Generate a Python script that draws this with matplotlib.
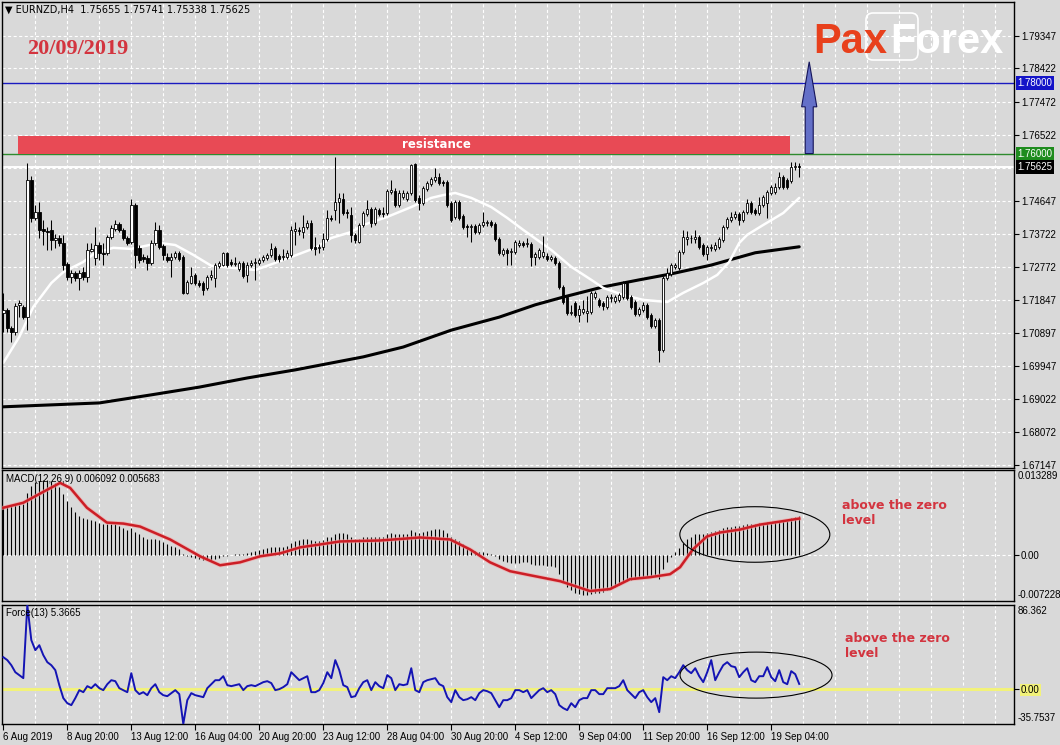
import numpy as np
import matplotlib
matplotlib.use("Agg")
import matplotlib.pyplot as plt
from matplotlib.patches import Rectangle, Ellipse, FancyBboxPatch, FancyArrow
import matplotlib.transforms as mtrans

plt.rcParams['font.family'] = ['Liberation Sans', 'DejaVu Sans']

# ---------------- data ----------------
symbol = "EURNZD,H4"
last_ohlc = ["1.75655", "1.75741", "1.75338", "1.75625"]
chart_date = "20/09/2019"

opens = [
 1.7147, 1.7155, 1.7104, 1.7093, 1.7170, 1.7164, 1.7135, 1.7525, 1.7417, 1.7434,
 1.7386, 1.7380, 1.7383, 1.7354, 1.7360, 1.7346, 1.7286, 1.7249, 1.7261, 1.7246,
 1.7263, 1.7249, 1.7323, 1.7303, 1.7340, 1.7318, 1.7318, 1.7363, 1.7386, 1.7400,
 1.7383, 1.7360, 1.7349, 1.7454, 1.7332, 1.7306, 1.7303, 1.7289, 1.7346, 1.7383,
 1.7337, 1.7306, 1.7298, 1.7306, 1.7318, 1.7306, 1.7204, 1.7232, 1.7255, 1.7232,
 1.7232, 1.7218, 1.7249, 1.7246, 1.7281, 1.7283, 1.7318, 1.7292, 1.7286, 1.7272,
 1.7289, 1.7255, 1.7283, 1.7289, 1.7289, 1.7298, 1.7303, 1.7312, 1.7332, 1.7309,
 1.7306, 1.7306, 1.7312, 1.7380, 1.7383, 1.7377, 1.7391, 1.7403, 1.7335, 1.7332,
 1.7335, 1.7357, 1.7417, 1.7440, 1.7463, 1.7471, 1.7434, 1.7426, 1.7369, 1.7349,
 1.7397, 1.7428, 1.7443, 1.7403, 1.7440, 1.7431, 1.7431, 1.7491, 1.7494, 1.7454,
 1.7477, 1.7471, 1.7488, 1.7571, 1.7474, 1.7460, 1.7499, 1.7514, 1.7525, 1.7534,
 1.7519, 1.7519, 1.7460, 1.7420, 1.7463, 1.7423, 1.7394, 1.7391, 1.7394, 1.7377,
 1.7397, 1.7403, 1.7406, 1.7400, 1.7357, 1.7315, 1.7326, 1.7320, 1.7320, 1.7340,
 1.7346, 1.7343, 1.7343, 1.7306, 1.7306, 1.7309, 1.7309, 1.7300, 1.7303, 1.7289,
 1.7221, 1.7192, 1.7147, 1.7175, 1.7141, 1.7150, 1.7147, 1.7150, 1.7192, 1.7184,
 1.7175, 1.7164, 1.7189, 1.7181, 1.7184, 1.7192, 1.7232, 1.7192, 1.7178, 1.7144,
 1.7155, 1.7170, 1.7141, 1.7110, 1.7127, 1.7042, 1.7246, 1.7258, 1.7278, 1.7275,
 1.7320, 1.7357, 1.7360, 1.7357, 1.7363, 1.7340, 1.7315, 1.7332, 1.7329, 1.7335,
 1.7354, 1.7391, 1.7411, 1.7420, 1.7428, 1.7411, 1.7434, 1.7460, 1.7440, 1.7431,
 1.7454, 1.7460, 1.7488, 1.7491, 1.7505, 1.7534, 1.7525, 1.7522, 1.7562, 1.75655]

highs = [
 1.7204, 1.7161, 1.7110, 1.7175, 1.7184, 1.7170, 1.7573, 1.7536, 1.7454, 1.7463,
 1.7411, 1.7391, 1.7411, 1.7372, 1.7369, 1.7369, 1.7292, 1.7269, 1.7266, 1.7269,
 1.7278, 1.7346, 1.7346, 1.7391, 1.7349, 1.7346, 1.7369, 1.7397, 1.7411, 1.7406,
 1.7389, 1.7366, 1.7471, 1.7460, 1.7340, 1.7315, 1.7312, 1.7354, 1.7406, 1.7397,
 1.7343, 1.7318, 1.7318, 1.7323, 1.7323, 1.7312, 1.7241, 1.7278, 1.7261, 1.7241,
 1.7238, 1.7255, 1.7269, 1.7289, 1.7295, 1.7320, 1.7320, 1.7300, 1.7306, 1.7295,
 1.7295, 1.7292, 1.7298, 1.7303, 1.7303, 1.7312, 1.7318, 1.7346, 1.7337, 1.7315,
 1.7329, 1.7326, 1.7394, 1.7406, 1.7391, 1.7426, 1.7411, 1.7411, 1.7363, 1.7343,
 1.7374, 1.7440, 1.7426, 1.7590, 1.7488, 1.7488, 1.7443, 1.7448, 1.7374, 1.7403,
 1.7437, 1.7468, 1.7448, 1.7448, 1.7445, 1.7448, 1.7499, 1.7525, 1.7502, 1.7497,
 1.7497, 1.7494, 1.7571, 1.7573, 1.7482, 1.7508, 1.7522, 1.7534, 1.7559, 1.7545,
 1.7525, 1.7525, 1.7465, 1.7468, 1.7468, 1.7428, 1.7400, 1.7400, 1.7400, 1.7403,
 1.7434, 1.7411, 1.7411, 1.7406, 1.7363, 1.7332, 1.7332, 1.7332, 1.7354, 1.7354,
 1.7352, 1.7360, 1.7349, 1.7320, 1.7332, 1.7366, 1.7318, 1.7312, 1.7309, 1.7295,
 1.7226, 1.7198, 1.7170, 1.7181, 1.7170, 1.7184, 1.7195, 1.7209, 1.7209, 1.7189,
 1.7181, 1.7198, 1.7201, 1.7198, 1.7204, 1.7238, 1.7238, 1.7198, 1.7184, 1.7164,
 1.7178, 1.7175, 1.7147, 1.7133, 1.7133, 1.7252, 1.7275, 1.7289, 1.7289, 1.7326,
 1.7383, 1.7380, 1.7369, 1.7383, 1.7369, 1.7346, 1.7340, 1.7343, 1.7349, 1.7363,
 1.7397, 1.7420, 1.7434, 1.7437, 1.7434, 1.7440, 1.7471, 1.7465, 1.7445, 1.7477,
 1.7482, 1.7497, 1.7511, 1.7517, 1.7548, 1.7539, 1.7531, 1.7576, 1.7576, 1.75741]

lows = [
 1.7093, 1.7093, 1.7064, 1.7084, 1.7135, 1.7130, 1.7098, 1.7406, 1.7411, 1.7360,
 1.7340, 1.7326, 1.7326, 1.7332, 1.7337, 1.7269, 1.7241, 1.7232, 1.7238, 1.7212,
 1.7241, 1.7235, 1.7320, 1.7283, 1.7298, 1.7283, 1.7312, 1.7357, 1.7380, 1.7377,
 1.7354, 1.7340, 1.7343, 1.7275, 1.7289, 1.7292, 1.7269, 1.7283, 1.7340, 1.7329,
 1.7298, 1.7292, 1.7249, 1.7300, 1.7295, 1.7201, 1.7201, 1.7229, 1.7226, 1.7221,
 1.7198, 1.7212, 1.7241, 1.7221, 1.7275, 1.7281, 1.7278, 1.7281, 1.7281, 1.7266,
 1.7246, 1.7235, 1.7278, 1.7241, 1.7283, 1.7292, 1.7298, 1.7306, 1.7295, 1.7292,
 1.7298, 1.7300, 1.7306, 1.7340, 1.7369, 1.7360, 1.7386, 1.7326, 1.7312, 1.7318,
 1.7326, 1.7352, 1.7409, 1.7411, 1.7403, 1.7426, 1.7417, 1.7349, 1.7346, 1.7346,
 1.7391, 1.7423, 1.7391, 1.7397, 1.7423, 1.7420, 1.7426, 1.7485, 1.7448, 1.7448,
 1.7471, 1.7465, 1.7482, 1.7463, 1.7440, 1.7454, 1.7494, 1.7508, 1.7519, 1.7511,
 1.7508, 1.7448, 1.7406, 1.7414, 1.7411, 1.7386, 1.7363, 1.7349, 1.7372, 1.7372,
 1.7391, 1.7394, 1.7391, 1.7352, 1.7312, 1.7309, 1.7283, 1.7283, 1.7315, 1.7335,
 1.7335, 1.7335, 1.7281, 1.7283, 1.7300, 1.7303, 1.7295, 1.7295, 1.7283, 1.7215,
 1.7172, 1.7141, 1.7141, 1.7135, 1.7121, 1.7144, 1.7121, 1.7144, 1.7187, 1.7164,
 1.7155, 1.7158, 1.7178, 1.7175, 1.7178, 1.7187, 1.7184, 1.7158, 1.7138, 1.7138,
 1.7150, 1.7130, 1.7104, 1.7104, 1.7007, 1.7036, 1.7241, 1.7252, 1.7272, 1.7269,
 1.7315, 1.7340, 1.7346, 1.7346, 1.7329, 1.7309, 1.7298, 1.7323, 1.7323, 1.7329,
 1.7349, 1.7386, 1.7406, 1.7414, 1.7397, 1.7406, 1.7428, 1.7428, 1.7426, 1.7426,
 1.7448, 1.7417, 1.7482, 1.7485, 1.7499, 1.7499, 1.7499, 1.7517, 1.7554, 1.75338]

closes = [
 1.7155, 1.7104, 1.7093, 1.7167, 1.7175, 1.7135, 1.7525, 1.7417, 1.7434, 1.7383,
 1.7380, 1.7377, 1.7354, 1.7360, 1.7346, 1.7283, 1.7249, 1.7261, 1.7246, 1.7261,
 1.7249, 1.7326, 1.7329, 1.7340, 1.7318, 1.7315, 1.7363, 1.7389, 1.7400, 1.7383,
 1.7360, 1.7346, 1.7454, 1.7312, 1.7298, 1.7300, 1.7289, 1.7346, 1.7383, 1.7335,
 1.7312, 1.7298, 1.7306, 1.7318, 1.7300, 1.7204, 1.7235, 1.7252, 1.7232, 1.7226,
 1.7212, 1.7249, 1.7255, 1.7283, 1.7289, 1.7318, 1.7283, 1.7286, 1.7289, 1.7289,
 1.7252, 1.7283, 1.7289, 1.7292, 1.7298, 1.7306, 1.7312, 1.7329, 1.7300, 1.7300,
 1.7309, 1.7318, 1.7383, 1.7386, 1.7380, 1.7391, 1.7403, 1.7332, 1.7329, 1.7335,
 1.7357, 1.7417, 1.7414, 1.7463, 1.7474, 1.7431, 1.7431, 1.7369, 1.7354, 1.7397,
 1.7431, 1.7443, 1.7403, 1.7443, 1.7428, 1.7428, 1.7494, 1.7497, 1.7454, 1.7488,
 1.7488, 1.7488, 1.7568, 1.7468, 1.7460, 1.7502, 1.7517, 1.7528, 1.7534, 1.7517,
 1.7517, 1.7454, 1.7411, 1.7463, 1.7417, 1.7391, 1.7391, 1.7394, 1.7377, 1.7397,
 1.7406, 1.7406, 1.7397, 1.7357, 1.7318, 1.7326, 1.7318, 1.7323, 1.7349, 1.7346,
 1.7340, 1.7346, 1.7306, 1.7315, 1.7326, 1.7320, 1.7300, 1.7306, 1.7289, 1.7221,
 1.7178, 1.7147, 1.7150, 1.7141, 1.7158, 1.7158, 1.7152, 1.7204, 1.7204, 1.7170,
 1.7167, 1.7192, 1.7192, 1.7192, 1.7198, 1.7232, 1.7189, 1.7164, 1.7144, 1.7158,
 1.7170, 1.7135, 1.7110, 1.7127, 1.7042, 1.7246, 1.7261, 1.7283, 1.7283, 1.7320,
 1.7363, 1.7363, 1.7360, 1.7363, 1.7335, 1.7315, 1.7335, 1.7335, 1.7340, 1.7357,
 1.7391, 1.7414, 1.7420, 1.7428, 1.7411, 1.7434, 1.7460, 1.7434, 1.7431, 1.7454,
 1.7477, 1.7491, 1.7505, 1.7505, 1.7534, 1.7505, 1.7505, 1.7562, 1.7565, 1.75625]

# moving averages (bar index, price)
ma_fast_bars = [0, 4, 7.5, 12, 15, 20, 23, 27.5, 32, 39, 43, 47.5, 52, 57.5, 63, 66, 72, 78, 82, 87,
                90, 96, 102, 107, 110, 113, 117, 122, 126, 130, 137, 142, 147, 150, 155, 160, 166, 170,
                175, 178.5, 181.5, 184, 186, 190, 195, 199]
ma_fast_vals = [1.7005, 1.7079, 1.7164, 1.7232, 1.7263, 1.7292, 1.7318, 1.7332, 1.7329, 1.7346,
                1.7340, 1.7312, 1.7281, 1.7275, 1.7269, 1.7281, 1.7306, 1.7332, 1.7360, 1.7377,
                1.7397, 1.7420, 1.7448, 1.7474, 1.7482, 1.7488, 1.7474, 1.7448, 1.7417, 1.7383,
                1.7326, 1.7278, 1.7241, 1.7218, 1.7198, 1.7184, 1.7178, 1.7204, 1.7232, 1.7255,
                1.7292, 1.7346, 1.7369, 1.7397, 1.7431, 1.7474]
ma_slow_bars = [0, 24, 37, 49, 61, 73, 90, 100, 112, 124, 133, 140, 150, 159, 167, 177, 188, 199]
ma_slow_vals = [1.6880, 1.6891, 1.6914, 1.6936, 1.6962, 1.6985, 1.7022, 1.7050, 1.7098, 1.7135,
                1.7170, 1.7192, 1.7221, 1.7241, 1.7258, 1.7283, 1.7318, 1.7335]

macd_main = [
 0.00754, 0.00769, 0.00769, 0.00785, 0.00785, 0.00800, 0.00971, 0.01080, 0.01142, 0.01158,
 0.01173, 0.01173, 0.01158, 0.01127, 0.01064, 0.00956, 0.00847, 0.00754, 0.00676, 0.00614,
 0.00583, 0.00567, 0.00552, 0.00536, 0.00505, 0.00490, 0.00490, 0.00490, 0.00490, 0.00458,
 0.00427, 0.00396, 0.00427, 0.00365, 0.00319, 0.00272, 0.00241, 0.00241, 0.00256, 0.00225,
 0.00194, 0.00163, 0.00132, 0.00117, 0.00085, 0.00008, -0.00023, -0.00039, -0.00054, -0.00070,
 -0.00085, -0.00085, -0.00085, -0.00070, -0.00054, -0.00023, -0.00023, -0.00008, 0.00008, 0.00008,
 0.00008, 0.00023, 0.00039, 0.00054, 0.00070, 0.00085, 0.00101, 0.00117, 0.00117, 0.00117,
 0.00117, 0.00132, 0.00179, 0.00210, 0.00225, 0.00241, 0.00256, 0.00225, 0.00210, 0.00210,
 0.00225, 0.00272, 0.00287, 0.00319, 0.00350, 0.00350, 0.00334, 0.00287, 0.00256, 0.00256,
 0.00272, 0.00287, 0.00272, 0.00287, 0.00287, 0.00287, 0.00319, 0.00350, 0.00334, 0.00334,
 0.00334, 0.00334, 0.00396, 0.00365, 0.00350, 0.00365, 0.00381, 0.00396, 0.00412, 0.00412,
 0.00396, 0.00350, 0.00287, 0.00256, 0.00210, 0.00163, 0.00117, 0.00085, 0.00054, 0.00039,
 0.00039, 0.00023, 0.00008, -0.00023, -0.00070, -0.00101, -0.00117, -0.00132, -0.00132, -0.00132,
 -0.00117, -0.00117, -0.00148, -0.00163, -0.00163, -0.00163, -0.00179, -0.00179, -0.00194, -0.00303,
 -0.00412, -0.00505, -0.00552, -0.00598, -0.00614, -0.00629, -0.00629, -0.00614, -0.00598, -0.00598,
 -0.00583, -0.00552, -0.00536, -0.00505, -0.00474, -0.00427, -0.00412, -0.00396, -0.00381, -0.00365,
 -0.00350, -0.00334, -0.00334, -0.00319, -0.00381, -0.00225, -0.00117, -0.00039, 0.00039, 0.00101,
 0.00179, 0.00241, 0.00287, 0.00319, 0.00334, 0.00334, 0.00350, 0.00365, 0.00381, 0.00396,
 0.00427, 0.00443, 0.00443, 0.00458, 0.00458, 0.00474, 0.00490, 0.00490, 0.00490, 0.00505,
 0.00505, 0.00521, 0.00521, 0.00521, 0.00536, 0.00536, 0.00536, 0.00583, 0.00598, 0.006092]

signal_bars = [0, 5, 10, 14.2, 16.7, 20.9, 25.9, 30, 34.2, 41.7, 49.2, 54.2, 59.2, 64.2, 69.2, 74.2,
               79.2, 84.2, 94.2, 104.2, 111.7, 116.7, 121.7, 126.7, 131.7, 139.2, 146.7, 151.7,
               156.7, 161.7, 166.7, 169.2, 172.4, 175.9, 179.2, 184.2, 189.2, 194.2, 199]
signal_vals = [0.00738, 0.00816, 0.00987, 0.01127, 0.01049, 0.00738, 0.00505, 0.00490, 0.00443,
               0.00241, -0.00023, -0.00163, -0.00117, -0.00023, 0.00023, 0.00117, 0.00163, 0.00210,
               0.00225, 0.00272, 0.00241, 0.00085, -0.00117, -0.00256, -0.00319, -0.00412, -0.00567,
               -0.00536, -0.00381, -0.00350, -0.00303, -0.00194, 0.00085, 0.00287, 0.00350, 0.00396,
               0.00474, 0.00521, 0.005683]

force = [
 32.8, 29.8, 24.6, 17.4, 14.4, 11.3, 86.36, 50.3, 40.0, 45.1,
 34.9, 27.7, 24.6, 19.5, 4.1, -9.2, -14.4, -16.4, -9.2, -1.0,
 -3.1, 3.1, 1.0, 5.1, 1.0, -1.0, 5.1, 9.2, 8.2, 1.0,
 -1.0, -3.1, 16.4, -1.0, -5.1, -3.1, -6.2, 1.0, 5.1, -3.1,
 -6.2, -7.2, -4.1, -1.0, -5.1, -35.75, -11.3, -4.1, -6.2, -7.2,
 -8.2, 1.0, 5.1, 9.2, 9.2, 13.3, 4.1, 3.1, 4.1, 5.1,
 -1.0, 3.1, 4.1, 3.1, 5.1, 7.2, 8.2, 6.2, -1.0, 0.0,
 2.1, 5.1, 17.4, 13.3, 9.2, 11.3, 13.3, -3.1, -3.1, -1.0,
 6.2, 17.4, 11.3, 29.8, 19.5, 4.1, 2.1, -8.2, -7.2, 1.0,
 7.2, 9.2, -1.0, 7.2, 3.1, 1.0, 14.4, 11.3, -1.0, 5.1,
 4.1, 5.1, 21.5, -1.0, -3.1, 7.2, 9.2, 10.3, 11.3, 5.1,
 3.1, -8.2, -13.3, -1.0, -8.2, -11.3, -10.3, -8.2, -11.3, -4.1,
 -1.0, -2.1, -4.1, -11.3, -18.5, -11.3, -11.3, -9.2, -1.0, -1.0,
 -3.1, -1.0, -9.2, -5.1, -1.0, 1.0, -3.1, -1.0, -5.1, -16.4,
 -19.5, -21.5, -14.4, -18.5, -11.3, -9.2, -9.2, -1.0, -1.0, -5.1,
 -5.1, 1.0, 1.0, 1.0, 3.1, 9.2, -1.0, -5.1, -9.2, -3.1,
 -1.0, -8.2, -13.3, -9.2, -23.6, 12.3, 9.2, 13.3, 11.3, 17.4,
 24.6, 19.5, 16.4, 21.5, 13.3, 7.2, 17.4, 29.8, 9.2, 17.4,
 24.6, 27.7, 23.6, 22.6, 12.3, 17.4, 21.5, 9.2, 7.2, 13.3,
 13.3, 22.6, 12.3, 8.2, 19.5, 7.2, 5.1, 18.5, 15.4, 5.3665]

time_labels = ["6 Aug 2019", "8 Aug 20:00", "13 Aug 12:00", "16 Aug 04:00", "20 Aug 20:00",
               "23 Aug 12:00", "28 Aug 04:00", "30 Aug 20:00", "4 Sep 12:00", "9 Sep 04:00",
               "11 Sep 20:00", "16 Sep 12:00", "19 Sep 04:00"]
bars_per_label = 16
bars_per_grid = 8

price_ticks = [1.79347, 1.78422, 1.77472, 1.76522, 1.74647, 1.73722, 1.72772,
               1.71847, 1.70897, 1.69947, 1.69022, 1.68072, 1.67147]
hidden_grid = [1.75597]
main_range = (1.6706, 1.8031)
macd_range = (-0.007228, 0.013289)
force_range = (-35.7537, 86.362)

target_level = 1.78000
support_level = 1.76000
bid_level = 1.75625
resistance_zone = (1.7600, 1.7650)
resistance_bars = (3.7, 196.7)
arrow_bar = 201.5
arrow_top = 1.7861

macd_last = ("0.006092", "0.005683")
force_last = "5.3665"

# ---------------- style ----------------
BG = '#D9D9D9'
W, H = 1060, 745
RED_TXT = '#D3343F'

def rect(x0, y0, x1, y1):
    return [x0 / W, 1 - y1 / H, (x1 - x0) / W, (y1 - y0) / H]

fig = plt.figure(figsize=(W / 100, H / 100), dpi=100, facecolor=BG)
ax = fig.add_axes(rect(2, 2, 1014, 468), facecolor=BG)
axm = fig.add_axes(rect(2, 470, 1014, 601), facecolor=BG)
axf = fig.add_axes(rect(2, 605, 1014, 724), facecolor=BG)

n = len(closes)
x = np.arange(n)
xlim = (-0.33, 252.7)
o = np.array(opens); h = np.array(highs); l = np.array(lows); c = np.array(closes)

grid_kw = dict(color='white', lw=0.8, dashes=(2.8, 2.2), zorder=0.5)
for a in (ax, axm, axf):
    a.set_xlim(*xlim)
    for s in a.spines.values():
        s.set_color('black'); s.set_linewidth(1.0)
    for gx in np.arange(bars_per_grid, xlim[1], bars_per_grid):
        a.axvline(gx, **grid_kw)
    a.yaxis.tick_right()
    a.tick_params(axis='y', which='both', length=3.5, width=0.8, pad=1.5,
                  labelsize=7, colors='black')
    a.set_xticks([])

# ---- main panel ----
ax.set_ylim(*main_range)
for gy in price_ticks + hidden_grid:
    ax.axhline(gy, **grid_kw)
ax.set_yticks(price_ticks)
ax.set_yticklabels([f"{v:.5f}" for v in price_ticks])

ax.plot(ma_slow_bars, ma_slow_vals, color='black', lw=2.2, zorder=2, solid_capstyle='round',
        solid_joinstyle='round')
ax.plot(ma_fast_bars, ma_fast_vals, color='white', lw=1.8, zorder=2, solid_capstyle='round',
        solid_joinstyle='round')

ax.axhline(bid_level, color='white', lw=1.4, zorder=1.5)
ax.axhline(target_level, color='#1A1AC0', lw=1.0, zorder=1.6)
ax.axhline(support_level, color='#2E8B2E', lw=1.0, zorder=1.6)

up = c >= o
ax.vlines(x, l, h, color='black', lw=0.75, zorder=3)
ax.bar(x, np.maximum(np.abs(c - o), 0.00002), bottom=np.minimum(o, c), width=0.6,
       color=np.where(up, 'white', 'black'), edgecolor='black', linewidth=0.6, zorder=4)

ax.add_patch(Rectangle((resistance_bars[0], resistance_zone[0]),
                       resistance_bars[1] - resistance_bars[0],
                       resistance_zone[1] - resistance_zone[0],
                       facecolor='#E84A55', edgecolor='none', zorder=5))
ax.text((resistance_bars[0] + resistance_bars[1]) / 2 + 8, sum(resistance_zone) / 2, 'resistance',
        color='white', fontsize=8.5, fontweight='bold', family='DejaVu Sans',
        ha='center', va='center', zorder=6)

ax.add_patch(FancyArrow(arrow_bar, support_level, 0, arrow_top - support_level,
                        width=2.0, head_width=3.8, head_length=0.0128,
                        length_includes_head=True, facecolor='#6470C8',
                        edgecolor='#14145A', lw=0.8, zorder=6))

blend = mtrans.blended_transform_factory(ax.transAxes, ax.transData)
for lvl, fc in ((target_level, '#1414C8'), (support_level, '#1E8C1E'), (bid_level, 'black')):
    ax.annotate(f"{lvl:.5f}", xy=(1.0, lvl), xycoords=blend, xytext=(2.6, 0),
                textcoords='offset points', ha='left', va='center', fontsize=7, color='white',
                bbox=dict(boxstyle='square,pad=0.18', fc=fc, ec='none'), annotation_clip=False)

# ---- MACD panel ----
axm.set_ylim(*macd_range)
axm.axhline(0, **grid_kw)
axm.vlines(x, 0, macd_main, color='black', lw=0.8, zorder=2)
axm.plot(signal_bars, signal_vals, color='#F4A0A0', lw=3.0, zorder=3, alpha=0.6,
         solid_joinstyle='round')
axm.plot(signal_bars, signal_vals, color='#CC1E26', lw=1.8, zorder=3.1, solid_joinstyle='round')
axm.set_yticks([0.0]); axm.set_yticklabels(['0.00'])
axm.annotate(f"{macd_range[1]:.6f}", xy=(1, 1), xycoords='axes fraction', xytext=(2.5, -1),
             textcoords='offset points', ha='left', va='top', fontsize=7)
axm.annotate(f"{macd_range[0]:.6f}", xy=(1, 0), xycoords='axes fraction', xytext=(2.5, 1),
             textcoords='offset points', ha='left', va='bottom', fontsize=7)
axm.text(0.004, 0.93, f"MACD(12,26,9) {macd_last[0]} {macd_last[1]}", transform=axm.transAxes,
         fontsize=7, ha='left', va='center', zorder=5)
axm.add_patch(Ellipse((187.9, 0.00319), 37.5, 0.0087, fill=False, edgecolor='black', lw=0.8, zorder=4))

# ---- Force panel ----
axf.set_ylim(*force_range)
axf.axhline(0, color='#F2F27A', lw=2.2, zorder=1)
axf.plot(x, force, color='#1414B4', lw=1.4, zorder=3)
axf.set_yticks([0.0]); axf.set_yticklabels(['0.00'])
for t in axf.get_yticklabels():
    t.set_bbox(dict(boxstyle='square,pad=0.1', fc='#F2F27A', ec='none'))
axf.annotate(f"{force_range[1]:.3f}", xy=(1, 1), xycoords='axes fraction', xytext=(2.5, -1),
             textcoords='offset points', ha='left', va='top', fontsize=7)
axf.annotate(f"{force_range[0]:.4f}", xy=(1, 0), xycoords='axes fraction', xytext=(2.5, 1),
             textcoords='offset points', ha='left', va='bottom', fontsize=7)
axf.text(0.004, 0.93, f"Force(13) {force_last}", transform=axf.transAxes,
         fontsize=7, ha='left', va='center', zorder=5)
axf.add_patch(Ellipse((188.2, 14.4), 38.0, 47.2, fill=False, edgecolor='black', lw=0.8, zorder=4))

tick_pos = np.arange(len(time_labels)) * bars_per_label
axf.set_xticks(tick_pos)
axf.set_xticklabels(time_labels)
axf.tick_params(axis='x', length=4, width=0.8, pad=1.5, labelsize=7, direction='out')
for t in axf.get_xticklabels():
    t.set_horizontalalignment('left')

# ---- annotations text ----
fig.text(5 / W, 1 - 10 / H, "\u25BC " + symbol + "  " + " ".join(last_ohlc),
         fontsize=7, ha='left', va='center', family=['DejaVu Sans'], color='black')
fig.text(27 / W, 1 - 49 / H, chart_date, fontsize=16, fontweight='bold', family='Liberation Serif',
         color=RED_TXT, ha='left', va='center')
fig.text(842 / W, 1 - 513 / H, "above the zero\nlevel", fontsize=9, fontweight='bold',
         family='DejaVu Sans', color=RED_TXT, ha='left', va='center', linespacing=1.25)
fig.text(845 / W, 1 - 646 / H, "above the zero\nlevel", fontsize=9, fontweight='bold',
         family='DejaVu Sans', color=RED_TXT, ha='left', va='center', linespacing=1.25)

# logo
fig.text(813 / W, 1 - 53 / H, "Pax", fontsize=30, fontweight='bold', family='Liberation Sans',
         color='#E8401C', ha='left', va='baseline')
fig.text(890 / W, 1 - 53 / H, "Forex", fontsize=30, fontweight='bold', family='Liberation Sans',
         color='white', ha='left', va='baseline')
logo_box = FancyBboxPatch((866, H - 60), 52, 47, boxstyle='round,pad=0,rounding_size=7',
                          fill=False, edgecolor='white', lw=1.2,
                          transform=mtrans.IdentityTransform())
fig.patches.append(logo_box)

fig.savefig('out.png', dpi=100, facecolor=BG)
